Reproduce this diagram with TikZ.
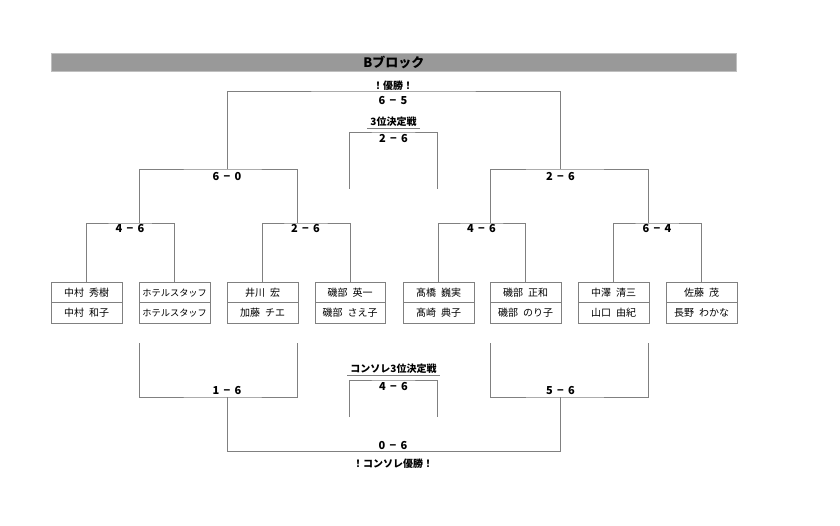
\documentclass[tikz,border=0pt]{standalone}
\usepackage{fontspec}
\setmainfont{Noto Sans CJK JP}
\newcommand\myscore[2]{#1\hspace{0.4em}−\hspace{0.4em}#2}
\newcommand\nsp{\hspace{0.5em}}
\begin{document}
\begin{tikzpicture}[x=1pt,y=-1pt,
  wire/.style={draw=black!50,line width=0.8pt},
  namebox/.style={draw=black!50,line width=0.8pt,minimum width=70.5pt,minimum height=20.5pt,inner sep=0pt,anchor=north west,font=\fontsize{10}{11}\selectfont},
  narrowname/.style={font=\fontsize{9.2}{10}\selectfont},
  scorelbl/.style={inner sep=0pt,font=\fontsize{11}{12}\selectfont\bfseries},
  titlelbl/.style={inner sep=0pt,font=\fontsize{10}{11}\selectfont\bfseries},
  ullbl/.style={inner xsep=3pt,inner ysep=2pt,font=\fontsize{10}{11}\selectfont\bfseries},
]
\useasboundingbox (0,0) rectangle (840,526);
\fill[white] (0,0) rectangle (840,526);
% banner
\node[fill=black!40,draw=black!25,line width=0.6pt,minimum width=685pt,minimum height=18pt,inner sep=0pt,anchor=north west,font=\fontsize{13}{14}\selectfont\bfseries] (banner) at (51,53) {Bブロック};
% players
\node[namebox] (p1a) at (51,282) {中村\nsp 秀樹};
\node[namebox] (p1b) at (51,302.5) {中村\nsp 和子};
\node[namebox,narrowname] (p2a) at (139,282) {ホテルスタッフ};
\node[namebox,narrowname] (p2b) at (139,302.5) {ホテルスタッフ};
\node[namebox] (p3a) at (227,282) {井川\nsp 宏};
\node[namebox] (p3b) at (227,302.5) {加藤\nsp チエ};
\node[namebox] (p4a) at (314.5,282) {磯部\nsp 英一};
\node[namebox] (p4b) at (314.5,302.5) {磯部\nsp さえ子};
\node[namebox] (p5a) at (403,282) {髙橋\nsp 巍実};
\node[namebox] (p5b) at (403,302.5) {髙崎\nsp 典子};
\node[namebox] (p6a) at (490,282) {磯部\nsp 正和};
\node[namebox] (p6b) at (490,302.5) {磯部\nsp のり子};
\node[namebox] (p7a) at (578,282) {中澤\nsp 清三};
\node[namebox] (p7b) at (578,302.5) {山口\nsp 由紀};
\node[namebox] (p8a) at (666,282) {佐藤\nsp 茂};
\node[namebox] (p8b) at (666,302.5) {長野\nsp わかな};
% junction coordinates
\coordinate (q1) at (130,223);
\coordinate (q2) at (305.5,223);
\coordinate (q3) at (481.5,223);
\coordinate (q4) at (657,223);
\coordinate (j1) at (139,223);
\coordinate (j2) at (297,223);
\coordinate (j3) at (490,223);
\coordinate (j4) at (648,223);
\coordinate (s1) at (227,169);
\coordinate (s2) at (560.5,169);
\coordinate (f) at (393,91);
\coordinate (t) at (393.5,132);
\coordinate (t1) at (349.5,189);
\coordinate (t2) at (437.7,189);
\coordinate (b1) at (139,343);
\coordinate (b2) at (297,343);
\coordinate (b3) at (490,343);
\coordinate (b4) at (648,343);
\coordinate (cs1) at (227,397);
\coordinate (cs2) at (560.5,397);
\coordinate (cf) at (393,451.7);
\coordinate (ct) at (393.5,380);
\coordinate (ct1) at (349.5,417);
\coordinate (ct2) at (437.7,417);
% main bracket
\draw[wire] (p1a.north) |- (q1) -| (p2a.north);
\draw[wire] (p3a.north) |- (q2) -| (p4a.north);
\draw[wire] (p5a.north) |- (q3) -| (p6a.north);
\draw[wire] (p7a.north) |- (q4) -| (p8a.north);
\draw[wire] (j1) |- (s1) -| (j2);
\draw[wire] (j3) |- (s2) -| (j4);
\draw[wire] (s1) |- (f) -| (s2);
\draw[wire] (t1) |- (t) -| (t2);
% consolation bracket
\draw[wire] (b1) |- (cs1) -| (b2);
\draw[wire] (b3) |- (cs2) -| (b4);
\draw[wire] (cs1) |- (cf) -| (cs2);
\draw[wire] (ct1) |- (ct) -| (ct2);
% labels
\node[titlelbl] (champ) at (393,85.5) {！優勝！};
\node[scorelbl] (scf) at (393,101) {\myscore{6}{5}};
\node[ullbl] (third) at (393.5,121.5) {3位決定戦};
\draw[wire] (third.south west) -- (third.south east);
\node[scorelbl] (sct) at (393.5,139) {\myscore{2}{6}};
\node[scorelbl] (scs1) at (227,177) {\myscore{6}{0}};
\node[scorelbl] (scs2) at (560.5,177) {\myscore{2}{6}};
\node[scorelbl] (scq1) at (130,229) {\myscore{4}{6}};
\node[scorelbl] (scq2) at (305.5,229) {\myscore{2}{6}};
\node[scorelbl] (scq3) at (481.5,229) {\myscore{4}{6}};
\node[scorelbl] (scq4) at (657,229) {\myscore{6}{4}};
\node[ullbl] (cthird) at (393.5,368.5) {コンソレ3位決定戦};
\draw[wire] (cthird.south west) -- (cthird.south east);
\node[scorelbl] (scct) at (393.5,387) {\myscore{4}{6}};
\node[scorelbl] (sccs1) at (227,391) {\myscore{1}{6}};
\node[scorelbl] (sccs2) at (560.5,391) {\myscore{5}{6}};
\node[scorelbl] (sccf) at (393,446) {\myscore{0}{6}};
\node[titlelbl] (cchamp) at (393,464) {！コンソレ優勝！};
\end{tikzpicture}
\end{document}
